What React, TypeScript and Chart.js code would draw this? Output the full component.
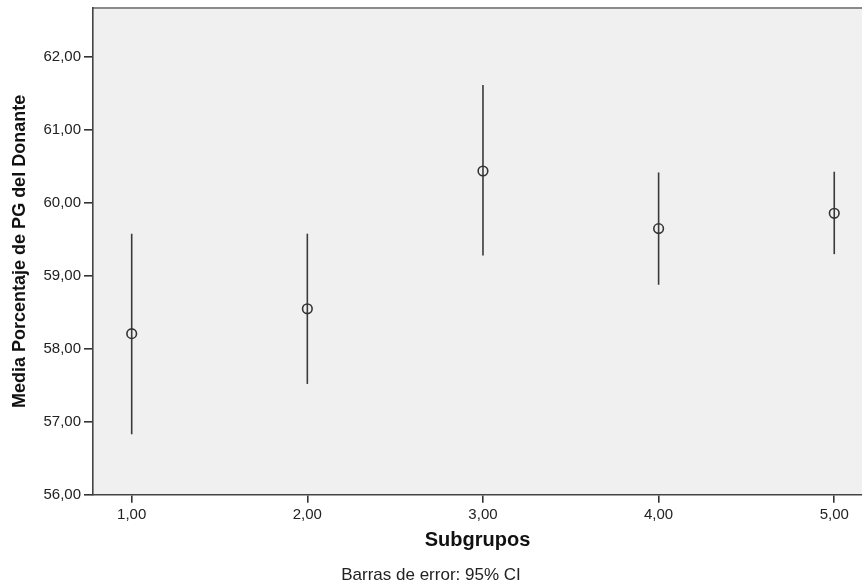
import React, { useEffect, useRef } from "react";
import { Chart, registerables } from "chart.js";

Chart.register(...registerables);

const groups = [1, 2, 3, 4, 5];
const means = [58.21, 58.55, 60.44, 59.65, 59.86];
const lowerCI = [56.83, 57.52, 59.28, 58.88, 59.3];
const upperCI = [59.58, 59.58, 61.62, 60.42, 60.43];
const yTickValues = [56, 57, 58, 59, 60, 61, 62];
const xTickValues = [1, 2, 3, 4, 5];
const yTitle = "Media Porcentaje de PG del Donante";
const xTitle = "Subgrupos";
const footnote = "Barras de error: 95% CI";

const FONT = "'Liberation Sans', Arial, sans-serif";
const fmt = (v: number) => v.toFixed(2).replace(".", ",");

const bgPlugin = {
  id: "plotBg",
  beforeDraw(chart: any) {
    const { ctx, chartArea: a } = chart;
    ctx.save();
    ctx.fillStyle = "#f0f0f0";
    ctx.fillRect(a.left, a.top, a.right - a.left, a.bottom - a.top);
    ctx.strokeStyle = "#8a8a8a";
    ctx.lineWidth = 2;
    ctx.beginPath();
    ctx.moveTo(a.left, a.top);
    ctx.lineTo(a.right, a.top);
    ctx.stroke();
    ctx.restore();
  },
  beforeDatasetsDraw(chart: any) {
    const { ctx, scales } = chart;
    const xs = scales.x;
    const ys = scales.y;
    ctx.save();
    ctx.strokeStyle = "#3a3a3a";
    ctx.lineWidth = 1.6;
    groups.forEach((g, i) => {
      const x = xs.getPixelForValue(g);
      ctx.beginPath();
      ctx.moveTo(x, ys.getPixelForValue(lowerCI[i]));
      ctx.lineTo(x, ys.getPixelForValue(upperCI[i]));
      ctx.stroke();
    });
    ctx.restore();
  },
};

export default function App() {
  const ref = useRef<HTMLCanvasElement>(null);
  useEffect(() => {
    const chart = new Chart(ref.current as HTMLCanvasElement, {
      type: "scatter",
      data: {
        datasets: [
          {
            data: groups.map((g, i) => ({ x: g, y: means[i] })),
            pointStyle: "circle",
            pointRadius: 4.8,
            pointBorderWidth: 1.6,
            pointBorderColor: "#333",
            pointBackgroundColor: "rgba(0,0,0,0)",
          },
        ],
      },
      options: {
        responsive: false,
        animation: false,
        layout: { autoPadding: false, padding: { top: 8, right: 0, left: 0, bottom: 0 } },
        plugins: {
          legend: { display: false },
          tooltip: { enabled: false },
          title: {
            display: true,
            text: footnote,
            position: "bottom",
            color: "#222",
            font: { family: FONT, size: 17, weight: "normal" },
            padding: { top: 4.8, bottom: 0 },
          },
        },
        scales: {
          x: {
            type: "linear",
            min: 0.7797,
            max: 5.158,
            afterBuildTicks: (s: any) => {
              s.ticks = xTickValues.map((v) => ({ value: v }));
            },
            afterFit: (s: any) => {
              s.height = 66;
              s.paddingLeft = 0;
              s.paddingRight = 0;
            },
            ticks: {
              color: "#222",
              padding: 3,
              maxRotation: 0,
              font: { family: FONT, size: 15 },
              callback: (v: any) => fmt(Number(v)),
            },
            grid: {
              drawOnChartArea: false,
              drawTicks: true,
              tickLength: 8,
              color: "#333",
              lineWidth: 1.6,
            },
            border: { display: true, color: "#444", width: 1.6 },
            title: {
              display: true,
              text: xTitle,
              color: "#111",
              font: { family: FONT, size: 20, weight: "bold" },
              padding: { top: 0, bottom: 8.8 },
            },
          },
          y: {
            type: "linear",
            min: 56,
            max: 62.675,
            afterBuildTicks: (s: any) => {
              s.ticks = yTickValues.map((v) => ({ value: v }));
            },
            afterFit: (s: any) => {
              s.width = 93;
              s.paddingTop = 0;
              s.paddingBottom = 0;
            },
            ticks: {
              color: "#222",
              padding: 3,
              font: { family: FONT, size: 15 },
              callback: (v: any) => fmt(Number(v)),
            },
            grid: {
              drawOnChartArea: false,
              drawTicks: true,
              tickLength: 9,
              color: "#333",
              lineWidth: 1.6,
            },
            border: { display: true, color: "#444", width: 1.6 },
            title: {
              display: true,
              text: yTitle,
              color: "#111",
              font: { family: FONT, size: 18, weight: "bold" },
              padding: { top: 9.2, bottom: 0 },
            },
          },
        },
      },
      plugins: [bgPlugin],
    } as any);
    return () => chart.destroy();
  }, []);
  return (
    <div style={{ position: "absolute", left: 0, top: 0, width: 862, height: 586, background: "#fff" }}>
      <canvas ref={ref} width={862} height={586} style={{ display: "block" }} />
    </div>
  );
}
